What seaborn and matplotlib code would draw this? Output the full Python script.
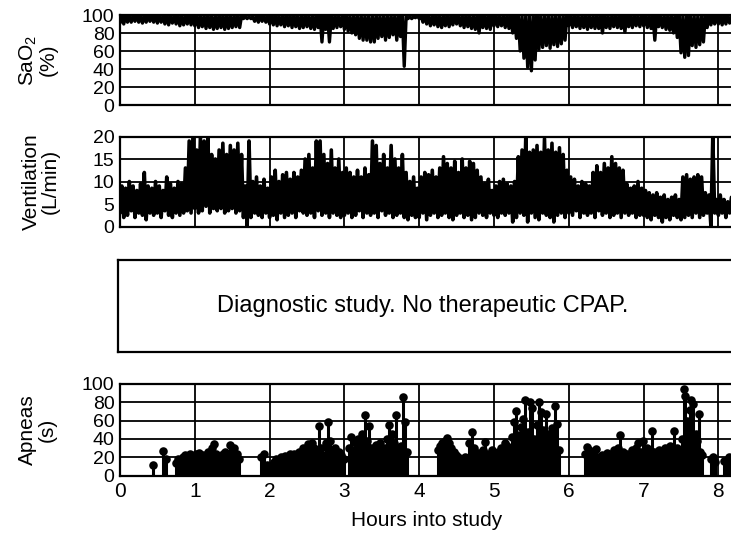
import matplotlib

matplotlib.use("Agg")

import matplotlib.pyplot as plt
import numpy as np
import pandas as pd
import seaborn as sns

# trace envelopes, one value every 0.05 h (3 min)
BIN_HOURS = 0.05

sao2_low = [
    91, 90, 92, 92, 93, 92, 91, 92, 93, 92, 91, 92, 90, 89, 91, 90, 88, 89, 90, 89,
    88, 86, 87, 85, 86, 84, 85, 86, 84, 85, 86, 87, 86, 96, 96, 96, 93, 92, 93, 92,
    90, 89, 88, 89, 87, 88, 86, 87, 85, 86, 87, 85, 84, 86, 70, 84, 70, 85, 86, 87,
    84, 82, 80, 78, 74, 72, 72, 70, 70, 74, 76, 72, 75, 78, 72, 76, 43, 96, 96, 97,
    96, 92, 90, 88, 89, 87, 86, 88, 87, 89, 90, 88, 86, 87, 85, 84, 80, 86, 85, 84,
    88, 87, 88, 86, 85, 80, 74, 60, 52, 42, 38, 50, 62, 64, 66, 63, 67, 65, 68, 72,
    88, 86, 87, 85, 86, 84, 86, 85, 85, 80, 86, 85, 87, 86, 85, 81, 87, 86, 88, 87,
    88, 86, 85, 72, 87, 86, 84, 83, 80, 75, 58, 53, 55, 66, 64, 67, 70, 86, 89, 90,
    90, 89, 90, 91,
]
sao2_high = [
    99, 100, 99, 99, 100, 99, 99, 100, 99, 100, 99, 99, 100, 99, 99, 100, 99, 99, 100, 99,
    100, 99, 99, 100, 99, 99, 100, 99, 100, 99, 99, 100, 99, 98, 98, 98, 99, 100, 99, 99,
    99, 100, 99, 99, 100, 99, 100, 99, 99, 100, 99, 99, 100, 99, 99, 100, 99, 100, 99, 99,
    100, 99, 99, 100, 99, 100, 99, 99, 100, 99, 99, 100, 99, 100, 99, 99, 98, 98, 98, 99,
    99, 100, 99, 99, 100, 99, 99, 100, 99, 100, 99, 99, 100, 99, 99, 100, 99, 99, 100, 99,
    100, 99, 99, 100, 99, 99, 100, 99, 100, 99, 99, 100, 99, 99, 100, 99, 100, 99, 99, 100,
    99, 100, 99, 99, 100, 99, 99, 100, 99, 100, 99, 99, 100, 99, 99, 100, 99, 100, 99, 99,
    100, 99, 99, 100, 99, 99, 100, 99, 100, 99, 99, 100, 99, 100, 99, 99, 100, 99, 99, 100,
    99, 100, 99, 99,
]

vent_low = [
    3, 2, 2.5, 3.5, 2, 3, 2.5, 1.5, 3, 2.5, 3, 2, 3.5, 2.5, 2, 3, 2.5, 3, 3.5, 3,
    4, 3, 3.5, 4.5, 3, 4, 3.5, 4, 3, 3.5, 4, 3, 3.5, 2, 0, 2, 3, 2.5, 2, 3,
    2, 2.5, 1.5, 3, 2, 2.5, 3, 2, 3.5, 3, 2.5, 3, 2, 3.5, 2.5, 3, 2, 3, 2.5, 2,
    2.5, 3, 2, 2.5, 3.5, 2, 3, 2.5, 3, 2, 3.5, 2.5, 3, 2, 2.5, 3, 2, 1.5, 2.5, 2,
    2, 3, 1.5, 2.5, 3, 2, 2.5, 3, 2, 1.5, 2.5, 3, 2, 2.5, 1.5, 2, 3, 2.5, 2, 3,
    2.5, 2, 3, 2.5, 3, 1, 2, 3, 2.5, 1, 3, 2, 1.5, 3, 2.5, 2, 1, 2.5, 3, 2,
    3, 2.5, 3.5, 2, 3, 2.5, 3, 2, 3.5, 2.5, 3, 2, 2.5, 3, 2, 3, 2.5, 3, 2, 2.5,
    2.5, 2, 1.5, 2.5, 2, 1, 2, 1.5, 2.5, 2, 1.5, 2, 2.5, 2, 3, 2, 2.5, 3, 0, 3,
    2.5, 3, 2, 3,
]
vent_high = [
    9, 8.5, 10, 9, 8, 9.5, 12, 9, 8.5, 10, 9, 8, 11, 9.5, 8.5, 10, 9.5, 13, 19, 20,
    17, 20, 19, 20, 16, 15, 17, 18.5, 16, 18, 17, 18.5, 16, 9, 19, 10, 11, 9, 10.5, 8.5,
    11, 12.5, 10, 11.5, 12, 10.5, 12, 11, 12.5, 15, 16, 13, 19, 19, 16, 14, 17, 13, 15, 12,
    13, 12, 11, 12.5, 11, 13, 11.5, 19, 18, 14, 16, 13, 18, 15, 13, 16, 12, 10, 11, 8.5,
    11, 12, 11.5, 12.5, 11, 13, 15.5, 14, 13, 14.5, 12, 15, 13, 14.5, 14, 12.5, 11, 9.5, 10.5, 8,
    9, 10, 10.5, 9.5, 9, 10, 15.5, 17, 20, 16.5, 17, 18, 16.5, 19.5, 17, 18.5, 16.5, 17.5, 16, 12.5,
    11, 10.5, 9, 10, 9.5, 9, 12, 13.5, 12, 14, 13, 15.5, 14, 13, 12.5, 9.5, 8.5, 9, 10, 8.5,
    8, 7.5, 7, 7.5, 6.5, 7, 6, 6.5, 7, 6, 11, 11.5, 10.5, 11, 11.5, 11, 7.5, 7, 20, 6,
    7, 6, 5.5, 6.5,
]

# apnea events: time into study (h) and duration (s)
apnea_hours = [
    0.44, 0.58, 0.61,
    0.75, 0.78, 0.81, 0.84, 0.87, 0.90, 0.93, 0.96, 0.99, 1.02, 1.05, 1.08, 1.11, 1.14, 1.17,
    1.20, 1.23, 1.26, 1.29, 1.32, 1.35, 1.38, 1.41, 1.44, 1.47, 1.50, 1.53, 1.56, 1.59,
    1.89, 1.92, 1.96, 1.99,
    2.03, 2.06, 2.09, 2.12, 2.15, 2.18, 2.21, 2.24, 2.27, 2.30, 2.33, 2.36, 2.39, 2.42, 2.45,
    2.48, 2.51, 2.54, 2.57, 2.60,
    2.63, 2.66, 2.69, 2.72, 2.75, 2.78, 2.81, 2.84, 2.87, 2.90, 2.93, 2.96, 2.99,
    3.06, 3.09, 3.12, 3.15, 3.18, 3.21, 3.24, 3.27, 3.30, 3.33, 3.36, 3.39, 3.42, 3.45,
    3.48, 3.51, 3.54, 3.57, 3.60, 3.63, 3.66, 3.69, 3.72, 3.75, 3.78, 3.81, 3.84,
    4.25, 4.28, 4.31, 4.34, 4.37, 4.40, 4.43, 4.46, 4.49, 4.52, 4.55, 4.58,
    4.61, 4.64, 4.67, 4.70, 4.73, 4.76, 4.79, 4.82, 4.85, 4.88, 4.91, 4.94, 4.97, 5.00,
    5.03, 5.06, 5.09, 5.12, 5.15, 5.18,
    5.21, 5.24, 5.27, 5.30, 5.33, 5.36, 5.39, 5.42, 5.45, 5.48, 5.51, 5.54, 5.57, 5.60,
    5.63, 5.66, 5.69, 5.72, 5.75, 5.78, 5.81, 5.84, 5.87,
    6.21, 6.24, 6.27, 6.30, 6.33, 6.36, 6.39, 6.42, 6.45, 6.48, 6.51, 6.54, 6.57, 6.60,
    6.63, 6.66, 6.69, 6.72, 6.75, 6.78, 6.81, 6.84, 6.87, 6.90, 6.93, 6.96, 6.99, 7.02,
    7.05, 7.08, 7.11, 7.14, 7.17, 7.20, 7.23, 7.26, 7.29, 7.32, 7.35, 7.38, 7.41, 7.44, 7.47,
    7.50, 7.52, 7.54, 7.56, 7.58, 7.60, 7.62, 7.64, 7.66, 7.68, 7.70, 7.72, 7.74, 7.76, 7.78,
    7.90, 7.93, 7.96, 8.08, 8.11, 8.14,
]
apnea_seconds = [
    12, 27, 18,
    14, 18, 16, 20, 22, 17, 24, 21, 19, 23, 25, 18, 22, 20, 26,
    19, 30, 34, 24, 21, 18, 23, 26, 22, 33, 27, 30, 24, 18,
    20, 23, 12, 10,
    12, 15, 18, 16, 20, 17, 21, 19, 23, 20, 24, 22, 26, 25, 30,
    28, 34, 32, 36, 30,
    25, 54, 30, 22, 35, 58, 38, 24, 30, 20, 26, 22, 18,
    30, 42, 28, 35, 40, 32, 45, 66, 38, 54, 30, 26, 33, 28,
    36, 24, 30, 40, 55, 45, 36, 66, 28, 32, 86, 58, 26,
    28, 32, 36, 38, 41, 35, 30, 26, 22, 20, 16, 18,
    20, 18, 35, 47, 30, 22, 25, 20, 28, 37, 24, 22, 28, 20,
    24, 26, 30, 22, 35, 32,
    30, 42, 58, 71, 44, 53, 62, 83, 48, 80, 74, 40, 55, 80,
    69, 50, 67, 45, 38, 52, 76, 56, 28,
    24, 31, 28, 22, 26, 29, 20, 16, 22, 18, 25, 20, 24, 28,
    22, 30, 44, 26, 20, 24, 22, 28, 25, 30, 35, 26, 38, 24,
    30, 28, 49, 26, 22, 28, 20, 24, 30, 26, 32, 28, 49, 30, 26,
    28, 40, 94, 87, 60, 35, 72, 82, 78, 30, 45, 38, 67, 26, 22,
    18, 20, 15, 16, 12, 20,
]

hour_ticks = [0, 1, 2, 3, 4, 5, 6, 7, 8]
sao2_ticks = [0, 20, 40, 60, 80, 100]
vent_ticks = [0, 5, 10, 15, 20]
apnea_ticks = [0, 20, 40, 60, 80, 100]

W, H = 731, 541
PX_PER_HOUR = 74.8
X_MAX = 8.5  # axes run past the right edge of the scan


def zigzag(low, high):
    t = np.arange(len(low)) * BIN_HOURS
    x = np.column_stack([t, t + BIN_HOURS / 2]).ravel()
    y = np.column_stack([low, high]).ravel()
    return pd.DataFrame({"hours": x, "value": y})


def add_panel(fig, left, top, bottom):
    return fig.add_axes([left / W, 1 - bottom / H, X_MAX * PX_PER_HOUR / W, (bottom - top) / H])


def style_panel(ax, ymax, yticks, ylabel, label_x):
    ax.set_xlim(0, X_MAX)
    ax.set_ylim(0, ymax)
    ax.set_xticks(hour_ticks)
    ax.set_yticks(yticks)
    ax.set_axisbelow(True)
    ax.grid(True, color="black", lw=1.3)
    for spine in ax.spines.values():
        spine.set_color("black")
        spine.set_linewidth(1.6)
    ax.tick_params(length=0, labelsize=14, pad=4, colors="black")
    ax.tick_params(axis="x", labelsize=15, pad=5)
    ax.set_xlabel("")
    ax.set_ylabel(ylabel, fontsize=15, linespacing=1.0, color="black")
    ax.yaxis.set_label_coords(label_x, 0.5)


sns.set_style("white")
plt.rcParams["font.family"] = ["Liberation Sans", "DejaVu Sans"]
plt.rcParams["mathtext.fontset"] = "custom"
plt.rcParams["mathtext.rm"] = "Liberation Sans"
plt.rcParams["mathtext.it"] = "Liberation Sans:italic"
plt.rcParams["text.color"] = "black"

fig = plt.figure(figsize=(7.31, 5.41), dpi=100)

# SaO2
ax1 = add_panel(fig, 120, 15, 105)
sns.lineplot(data=zigzag(sao2_low, sao2_high), x="hours", y="value", ax=ax1,
             color="black", lw=2.4, estimator=None, sort=False)
style_panel(ax1, 100, sao2_ticks, "SaO$_2$\n(%)", -0.098)
ax1.tick_params(labelbottom=False)

# ventilation
ax2 = add_panel(fig, 120, 136.5, 226.5)
sns.lineplot(data=zigzag(vent_low, vent_high), x="hours", y="value", ax=ax2,
             color="black", lw=2.6, estimator=None, sort=False)
style_panel(ax2, 20, vent_ticks, "Ventilation\n(L/min)", -0.094)
ax2.tick_params(labelbottom=False)

# CPAP note
ax3 = add_panel(fig, 118, 260, 352)
ax3.set_xticks([])
ax3.set_yticks([])
for spine in ax3.spines.values():
    spine.set_color("black")
    spine.set_linewidth(1.6)
ax3.text(0.48, 0.5, "Diagnostic study. No therapeutic CPAP.", transform=ax3.transAxes,
         ha="center", va="center", fontsize=17)

# apneas
ax4 = add_panel(fig, 120, 384, 475.5)
ax4.vlines(apnea_hours, 0, apnea_seconds, color="black", lw=2.2)
sns.scatterplot(x=apnea_hours, y=apnea_seconds, ax=ax4, color="black", s=38,
                linewidth=0, zorder=3)
style_panel(ax4, 100, apnea_ticks, "Apneas\n(s)", -0.100)
ax4.set_xlabel("Hours into study", fontsize=15, color="black")
ax4.xaxis.set_label_coords((427 - 120) / (X_MAX * PX_PER_HOUR), -0.39)

fig.savefig("out.png", dpi=100)
